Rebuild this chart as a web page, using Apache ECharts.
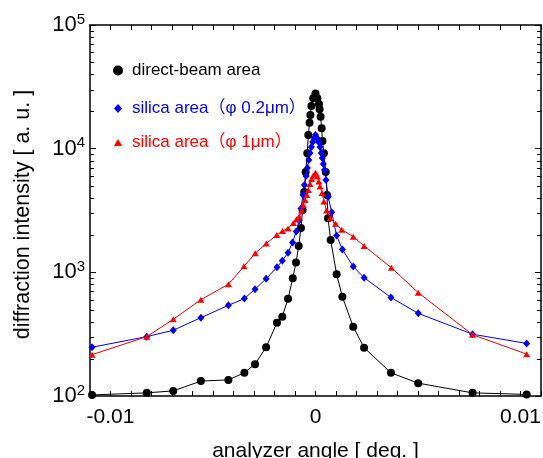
<!DOCTYPE html>
<html>
<head>
<meta charset="utf-8">
<script src="https://cdn.jsdelivr.net/npm/echarts@6/dist/echarts.min.js"></script>
<style>
html,body{margin:0;padding:0;background:#fff;}
#chart{width:543px;height:458px;}
</style>
</head>
<body>
<div id="chart"></div>
<script>
// ---- data (angle in deg, intensity in a.u.) ----
var directBeamX = [-0.01090,-0.00823,-0.00694,-0.00559,-0.00425,-0.00347,-0.00295,-0.00241,-0.00188,-0.00162,-0.00134,-0.00111,-0.00095,-0.00082,-0.00071,-0.00063,-0.00055,-0.00048,-0.00040,-0.00035,-0.00029,-0.00025,-0.00020,-0.00011,0,
  0.00009,0.00017,0.00020,0.00025,0.00030,0.00034,0.00041,0.00050,0.00056,0.00061,0.00074,0.00103,0.00131,0.00184,0.00237,0.00368,0.00501,0.00766,0.01030];
var directBeamY = [102,106,110,132,135,154,181,248,391,438,611,895,1201,1633,2283,3192,4463,6477,9173,12893,16218,18720,22130,25550,27930,
  25550,22960,20810,18130,14610,11530,9173,6477,4220,2735,1825,964,635,363,246,154,127,106,103];

var silica02X = [-0.01090,-0.00823,-0.00694,-0.00559,-0.00425,-0.00347,-0.00295,-0.00241,-0.00188,-0.00162,-0.00134,-0.00112,-0.00094,-0.00080,-0.00071,-0.00061,-0.00054,-0.00046,-0.00040,-0.00033,-0.00027,-0.00020,-0.00014,-0.00007,0,
  0.00007,0.00015,0.00022,0.00028,0.00033,0.00038,0.00044,0.00051,0.00062,0.00079,0.00103,0.00131,0.00184,0.00237,0.00368,0.00501,0.00766,0.01030];
var silica02Y = [248,302,340,430,541,614,730,887,1098,1242,1441,1743,2139,2625,3282,4220,5084,6009,6976,8095,9225,10314,11320,12200,12893,
  12200,11320,10314,9225,8403,7516,6723,5580,4090,3058,1985,1530,1114,905,626,466,316,266];

var silica1X = [-0.01090,-0.00823,-0.00694,-0.00559,-0.00425,-0.00349,-0.00294,-0.00240,-0.00189,-0.00161,-0.00134,-0.00108,-0.00093,-0.00080,-0.00068,-0.00060,-0.00051,-0.00043,-0.00035,-0.00027,-0.00019,-0.00011,0,
  0.00009,0.00016,0.00022,0.00032,0.00041,0.00054,0.00071,0.00098,0.00128,0.00184,0.00237,0.00370,0.00501,0.00766,0.01030];
var silica1Y = [216,302,417,601,801,1119,1425,1711,2004,2159,2262,2505,2685,2828,3162,3503,3845,4220,4630,5178,5685,6067,6392,
  5955,5427,4943,4381,3739,3162,2735,2469,2212,1942,1633,1090,685,313,218];

var seriesNames = ['direct-beam area', 'silica area\uFF08\u03C6 0.2\u03BCm\uFF09', 'silica area\uFF08\u03C6 1\u03BCm\uFF09'];
var xTickLabels = [-0.01, 0, 0.01];
var yTickExponents = [2, 3, 4, 5];
var xAxisTitle = 'analyzer angle [ deg. ]';
var yAxisTitle = 'diffraction intensity [ a. u. ]';

function zip(xs, ys){ return xs.map(function(x,i){ return [x, ys[i]]; }); }

var FONT = '"Liberation Sans", Arial, "Noto Sans CJK JP", sans-serif';
var chart = echarts.init(document.getElementById('chart'), null, {renderer:'canvas'});

var axisLineStyle = {color:'#000', width:1.5};
var option = {
  animation: false,
  backgroundColor: '#fff',
  textStyle: {fontFamily: FONT},
  grid: {left: 90, top: 25, width: 451, height: 371, containLabel: false, outerBoundsMode: 'none'},
  xAxis: [{
    type: 'value', min: -0.011, max: 0.011, interval: 0.001, position: 'bottom',
    axisLine: {show: true, onZero: false, lineStyle: axisLineStyle},
    axisTick: {show: true, inside: true, length: 5, lineStyle: {color:'#000', width:1}},
    splitLine: {show: false},
    axisLabel: {
      show: true, margin: 11, color: '#000', fontSize: 21, fontFamily: FONT,
      showMinLabel: true, showMaxLabel: true,
      formatter: function(v){
        for (var i=0;i<xTickLabels.length;i++){
          if (Math.abs(v - xTickLabels[i]) < 1e-9) return String(xTickLabels[i]);
        }
        return '';
      }
    },
    name: xAxisTitle, nameLocation: 'middle', nameGap: 45,
    nameTextStyle: {color:'#000', fontSize: 21, fontFamily: FONT, verticalAlign: 'top'}
  },{
    type: 'value', min: -0.011, max: 0.011, interval: 0.001, position: 'top',
    axisLine: {show: true, onZero: false, lineStyle: axisLineStyle},
    axisTick: {show: true, inside: true, length: 5, lineStyle: {color:'#000', width:1}},
    axisLabel: {show: false}, splitLine: {show: false}
  }],
  yAxis: [{
    type: 'log', logBase: 10, min: 100, max: 100000, position: 'left',
    axisLine: {show: true, onZero: false, lineStyle: axisLineStyle},
    axisTick: {show: true, inside: true, length: 6, lineStyle: {color:'#000', width:1}},
    splitLine: {show: false},
    axisLabel: {
      show: true, margin: 5, color: '#000', fontFamily: FONT,
      formatter: function(v){
        var e = Math.round(Math.log10(v));
        if (yTickExponents.indexOf(e) < 0) return '';
        return '{b|10}{s|' + e + '}';
      },
      rich: {
        b: {fontSize: 22, color:'#000', fontFamily: FONT},
        s: {fontSize: 15, color:'#000', fontFamily: FONT, verticalAlign: 'bottom', padding: [0,0,11,0]}
      }
    },
    name: yAxisTitle, nameLocation: 'middle', nameGap: 56, nameRotate: 90,
    nameTextStyle: {color:'#000', fontSize: 21.5, fontFamily: FONT, padding: [0,8,0,0]}
  },{
    type: 'log', logBase: 10, min: 100, max: 100000, position: 'right',
    axisLine: {show: true, onZero: false, lineStyle: axisLineStyle},
    axisTick: {show: true, inside: true, length: 6, lineStyle: {color:'#000', width:1}},
    axisLabel: {show: false}, splitLine: {show: false}
  }],
  legend: [
    {data: [{name: seriesNames[0], icon: 'circle'}], left: 113, top: 62, orient:'vertical',
     itemWidth: 10, itemHeight: 10, itemGap: 0, padding: 0, selectedMode: false,
     textStyle: {color:'#000', fontSize: 17, fontFamily: FONT, padding:[0,0,0,4]}},
    {data: [{name: seriesNames[1], icon: 'diamond'}], left: 114, top: 100, orient:'vertical',
     itemWidth: 8, itemHeight: 9, itemGap: 0, padding: 0, selectedMode: false,
     textStyle: {color:'#0000ff', fontSize: 17, fontFamily: FONT, padding:[0,0,0,5]}},
    {data: [{name: seriesNames[2], icon: 'triangle'}], left: 114, top: 134, orient:'vertical',
     itemWidth: 8, itemHeight: 7, itemGap: 0, padding: 0, selectedMode: false,
     textStyle: {color:'#ff0000', fontSize: 17, fontFamily: FONT, padding:[0,0,0,5]}}
  ],
  series: [
    {name: seriesNames[0], type: 'line', data: zip(directBeamX, directBeamY),
     symbol: 'circle', symbolSize: 8, showSymbol: true, showAllSymbol: true,
     lineStyle: {color:'#000', width: 1}, itemStyle: {color:'#000'}, z: 2},
    {name: seriesNames[1], type: 'line', data: zip(silica02X, silica02Y),
     symbol: 'diamond', symbolSize: [7,8], showSymbol: true, showAllSymbol: true,
     lineStyle: {color:'#0000ff', width: 1}, itemStyle: {color:'#0000ff'}, z: 3},
    {name: seriesNames[2], type: 'line', data: zip(silica1X, silica1Y),
     symbol: 'triangle', symbolSize: [7,6], showSymbol: true, showAllSymbol: true,
     lineStyle: {color:'#ff0000', width: 1}, itemStyle: {color:'#ff0000'}, z: 4}
  ]
};
chart.setOption(option);

// minor log ticks (2..9 x 10^n) on left and right frame
var minorVals = [];
[100, 1000, 10000].forEach(function(d){ for (var k=2;k<=9;k++) minorVals.push(k*d); });
var xl = chart.convertToPixel({xAxisIndex:0}, -0.011);
var xr = chart.convertToPixel({xAxisIndex:0}, 0.011);
var gfx = [];
minorVals.forEach(function(v){
  var y = Math.round(chart.convertToPixel({yAxisIndex:0}, v)) + 0.5;
  gfx.push({type:'line', shape:{x1:xl, y1:y, x2:xl+4, y2:y}, style:{stroke:'#000', lineWidth:1}, silent:true, z:10});
  gfx.push({type:'line', shape:{x1:xr, y1:y, x2:xr-4, y2:y}, style:{stroke:'#000', lineWidth:1}, silent:true, z:10});
});
chart.setOption({graphic: gfx});
</script>
</body>
</html>
